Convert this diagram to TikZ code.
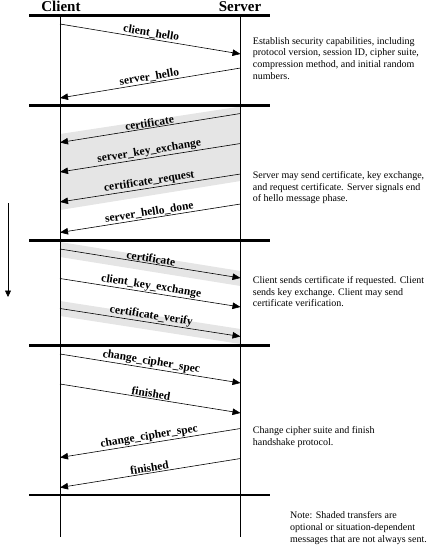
\documentclass[tikz,border=0pt]{standalone}
\usepackage{fontspec}
\setmainfont{Liberation Serif}
\usetikzlibrary{arrows.meta}
\begin{document}
\begin{tikzpicture}[x=1pt,y=-1pt,
  life/.style={line width=0.6pt},
  bar/.style={line width=2.6pt},
  msg/.style={line width=0.6pt,-{Triangle[length=8pt,width=6.5pt]}},
  lbl/.style={sloped,above,inner sep=0.8pt,font=\fontsize{11.5}{13}\selectfont\bfseries},
  desc/.style={anchor=north west,inner sep=0pt,align=left,font=\fontsize{10}{11.7}\selectfont},
  title/.style={font=\fontsize{15}{18}\selectfont\bfseries,anchor=base},
  shade/.style={fill=black!10,draw=none}]
\useasboundingbox (0,0) rectangle (436,553);
% shading
\fill[shade] (240.5,106.5) -- (60,134) -- (60,210) -- (240.5,181) -- cycle;
\fill[shade] (60,242) -- (240.5,271) -- (240.5,286) -- (60,257) -- cycle;
\fill[shade] (60,301) -- (240.5,329) -- (240.5,344) -- (60,316) -- cycle;
% titles
\node[title] (client) at (61,12) {Client};
\node[title] (server) at (240,12) {Server};
% lifelines
\coordinate (ctop) at (60,15.7);
\coordinate (cbot) at (60,537);
\coordinate (stop) at (240.5,15.7);
\coordinate (sbot) at (240.5,537);
\draw[life] (ctop) -- (cbot);
\draw[life] (stop) -- (sbot);
% bars
\foreach \n/\y in {b0/15.7,b1/105.5,b2/240.5,b3/345.5,b4/495} {
  \coordinate (\n l) at (29,\y);
  \coordinate (\n r) at (270,\y);
  \draw[bar] (\n l) -- (\n r);
}
% phase 1
\coordinate (c1) at (60,24);   \coordinate (s1) at (240.5,54);
\coordinate (s2) at (240.5,68); \coordinate (c2) at (60,98);
\draw[msg] (c1) -- node[lbl]{client\_hello} (s1);
\draw[msg] (s2) -- node[lbl]{server\_hello} (c2);
% phase 2
\coordinate (s3) at (240.5,113.5); \coordinate (c3) at (60,142.5);
\coordinate (s4) at (240.5,143.5); \coordinate (c4) at (60,172);
\coordinate (s5) at (240.5,174);   \coordinate (c5) at (60,202);
\coordinate (s6) at (240.5,204);   \coordinate (c6) at (60,232.5);
\draw[msg] (s3) -- node[lbl]{certificate} (c3);
\draw[msg] (s4) -- node[lbl]{server\_key\_exchange} (c4);
\draw[msg] (s5) -- node[lbl]{certificate\_request} (c5);
\draw[msg] (s6) -- node[lbl]{server\_hello\_done} (c6);
% phase 3
\coordinate (c7) at (60,249);   \coordinate (s7) at (240.5,278);
\coordinate (c8) at (60,278.5); \coordinate (s8) at (240.5,307);
\coordinate (c9) at (60,308.5); \coordinate (s9) at (240.5,336.5);
\draw[msg] (c7) -- node[lbl]{certificate} (s7);
\draw[msg] (c8) -- node[lbl]{client\_key\_exchange} (s8);
\draw[msg] (c9) -- node[lbl]{certificate\_verify} (s9);
% phase 4
\coordinate (c10) at (60,354);   \coordinate (s10) at (240.5,383);
\coordinate (c11) at (60,384);   \coordinate (s11) at (240.5,413);
\coordinate (s12) at (240.5,428.5); \coordinate (c12) at (60,457.5);
\coordinate (s13) at (240.5,458.5); \coordinate (c13) at (60,487.5);
\draw[msg] (c10) -- node[lbl]{change\_cipher\_spec} (s10);
\draw[msg] (c11) -- node[lbl]{finished} (s11);
\draw[msg] (s12) -- node[lbl]{change\_cipher\_spec} (c12);
\draw[msg] (s13) -- node[lbl]{finished} (c13);
% time arrow
\coordinate (t1) at (8,203);
\coordinate (t2) at (8,297);
\draw[line width=0.6pt,-{Triangle[length=6.5pt,width=6pt]}] (t1) -- (t2);
% descriptions
\node[desc] (d1) at (252.7,37) {Establish security capabilities, including\\protocol version, session ID, cipher suite,\\compression method, and initial random\\numbers.};
\node[desc] (d2) at (252.7,171.3) {Server may send certificate, key exchange,\\and request certificate. Server signals end\\of hello message phase.};
\node[desc] (d3) at (252.7,276.3) {Client sends certificate if requested. Client\\sends key exchange. Client may send\\certificate verification.};
\node[desc] (d4) at (252.7,426.5) {Change cipher suite and finish\\handshake protocol.};
\node[desc] (d5) at (290,511.5) {Note: Shaded transfers are\\optional or situation-dependent\\messages that are not always sent.};
\end{tikzpicture}
\end{document}
